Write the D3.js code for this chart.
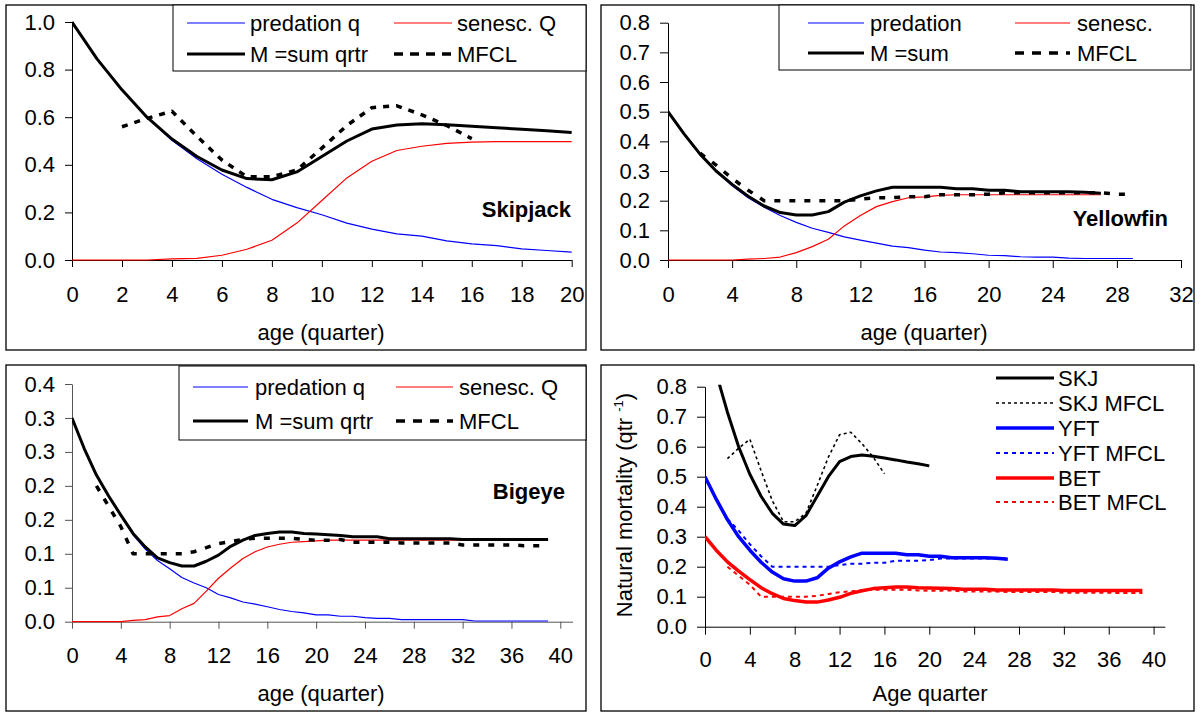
<!DOCTYPE html>
<html>
<head>
<meta charset="utf-8">
<script src="https://cdn.jsdelivr.net/npm/d3@7"></script>
<style>
body { margin: 0; background: #fff; }
svg { display: block; font-family: "Liberation Sans", Arial, sans-serif; }
</style>
</head>
<body>
<div id="chart"></div>
<script>

// ---- skipjack (quarters 0..20), MFCL from quarter 2
var skjPred = [1.0, 0.845, 0.715, 0.60, 0.503, 0.425, 0.36, 0.305, 0.255, 0.22, 0.19, 0.155, 0.13, 0.11, 0.10, 0.08, 0.068, 0.06, 0.047, 0.04, 0.033];
var skjSen  = [0, 0, 0, 0, 0.005, 0.007, 0.02, 0.045, 0.083, 0.155, 0.25, 0.345, 0.415, 0.46, 0.478, 0.49, 0.495, 0.497, 0.497, 0.497, 0.497];
var skjM    = [1.0, 0.845, 0.715, 0.60, 0.508, 0.435, 0.378, 0.342, 0.337, 0.37, 0.435, 0.50, 0.55, 0.567, 0.572, 0.568, 0.562, 0.556, 0.549, 0.543, 0.536];
var skjMfcl = [0.56, 0.595, 0.625, 0.52, 0.42, 0.35, 0.35, 0.378, 0.47, 0.565, 0.64, 0.648, 0.61, 0.565, 0.51];

// ---- yellowfin (quarters 0..29)
var yftPred = [0.5, 0.425, 0.355, 0.30, 0.25, 0.21, 0.178, 0.15, 0.127, 0.107, 0.093, 0.078, 0.067, 0.057, 0.047, 0.042, 0.033, 0.027, 0.025, 0.021, 0.016, 0.015, 0.011, 0.01, 0.01, 0.006, 0.005, 0.005, 0.005, 0.005];
var yftSen  = [0, 0, 0, 0, 0, 0.003, 0.005, 0.01, 0.025, 0.045, 0.07, 0.115, 0.15, 0.18, 0.197, 0.21, 0.213, 0.218, 0.22, 0.22, 0.22, 0.22, 0.22, 0.22, 0.22, 0.22, 0.22, 0.22];
var yftM    = [0.5, 0.425, 0.357, 0.30, 0.255, 0.215, 0.182, 0.16, 0.152, 0.152, 0.163, 0.195, 0.216, 0.233, 0.245, 0.245, 0.245, 0.245, 0.24, 0.24, 0.235, 0.235, 0.23, 0.23, 0.23, 0.23, 0.228, 0.225];
var yftMfcl = [0.36, 0.32, 0.275, 0.235, 0.2, 0.2, 0.2, 0.2, 0.2, 0.2, 0.205, 0.21, 0.21, 0.213, 0.213, 0.22, 0.22, 0.22, 0.222, 0.227, 0.227, 0.227, 0.227, 0.227, 0.227, 0.227, 0.222, 0.222];

// ---- bigeye (quarters 0..39)
var betPred = [0.3, 0.255, 0.215, 0.185, 0.157, 0.128, 0.107, 0.09, 0.078, 0.065, 0.057, 0.05, 0.04, 0.035, 0.029, 0.026, 0.022, 0.018, 0.015, 0.013, 0.01, 0.01, 0.008, 0.008, 0.006, 0.005, 0.005, 0.003, 0.003, 0.003, 0.003, 0.003, 0.003, 0.001, 0.001, 0.001, 0.001, 0.001, 0.001, 0.001];
var betSen  = [0, 0, 0, 0, 0, 0.002, 0.003, 0.007, 0.009, 0.019, 0.027, 0.045, 0.064, 0.079, 0.093, 0.103, 0.11, 0.114, 0.117, 0.118, 0.119, 0.12, 0.12, 0.12, 0.12, 0.12, 0.12, 0.12, 0.12, 0.12, 0.12, 0.12, 0.12, 0.12, 0.12, 0.12, 0.12, 0.12, 0.12, 0.12];
var betM    = [0.3, 0.255, 0.216, 0.185, 0.157, 0.13, 0.11, 0.094, 0.087, 0.082, 0.082, 0.089, 0.098, 0.111, 0.12, 0.127, 0.13, 0.132, 0.132, 0.13, 0.129, 0.128, 0.127, 0.125, 0.125, 0.125, 0.122, 0.122, 0.122, 0.122, 0.122, 0.122, 0.121, 0.121, 0.121, 0.121, 0.121, 0.121, 0.121, 0.121];
var betMfcl = [0.2, 0.17, 0.14, 0.1, 0.1, 0.1, 0.1, 0.1, 0.103, 0.109, 0.115, 0.118, 0.121, 0.123, 0.123, 0.123, 0.123, 0.121, 0.12, 0.12, 0.121, 0.117, 0.117, 0.117, 0.117, 0.116, 0.116, 0.116, 0.116, 0.116, 0.113, 0.113, 0.113, 0.113, 0.113, 0.112, 0.112, 0.112];

// ---- tick labels
var skjYTicks = [0, 0.2, 0.4, 0.6, 0.8, 1.0];
var skjXTicks = [0, 2, 4, 6, 8, 10, 12, 14, 16, 18, 20];
var yftYTicks = [0, 0.1, 0.2, 0.3, 0.4, 0.5, 0.6, 0.7, 0.8];
var yftXTicks = [0, 4, 8, 12, 16, 20, 24, 28, 32];
var betYTicks = [0, 0.05, 0.1, 0.15, 0.2, 0.25, 0.3, 0.35];
var betYLabels = ["0.0", "0.1", "0.1", "0.2", "0.2", "0.3", "0.3", "0.4"];
var allXTicks = [0, 4, 8, 12, 16, 20, 24, 28, 32, 36, 40];

var MFCL_START = 2;
var YFT_MFCL_LAST = 27;   // combined panel stops the YFT MFCL curve here

function pts(start, vals){
  return vals.map((v, i) => [start + i, v]);
}

var svg = d3.select('#chart').append('svg')
  .attr('width', 1203)
  .attr('height', 713);

var FS = 22;

function drawPanel(p){
  var g = svg.append('g');

  g.append('rect')
    .attr('x', p.box[0]).attr('y', p.box[1])
    .attr('width', p.box[2] - p.box[0])
    .attr('height', p.box[3] - p.box[1])
    .attr('fill', '#fff')
    .attr('stroke', '#000')
    .attr('stroke-width', 1.3);

  var x = d3.scaleLinear().domain(p.xDomain).range([p.plot[0], p.plot[1]]);
  var y = d3.scaleLinear().domain(p.yDomain).range([p.plot[3], p.plot[2]]);

  var xAxis = d3.axisBottom(x)
    .tickValues(p.xTicks)
    .tickSize(p.tick)
    .tickSizeOuter(0)
    .tickPadding(p.xPad)
    .tickFormat(d3.format('d'));

  var yAxis = d3.axisLeft(y)
    .tickValues(p.yTicks)
    .tickSize(p.tick)
    .tickSizeOuter(0)
    .tickPadding(10)
    .tickFormat((d, i) => p.yLabels ? p.yLabels[i] : d3.format('.1f')(d));

  g.append('g')
    .attr('transform', `translate(0,${p.plot[3]})`)
    .call(xAxis)
    .attr('font-size', FS)
    .attr('font-family', null)
    .call(a => a.selectAll('path,line').attr('stroke', p.axisColor))
    .selectAll('text').attr('fill', '#000');

  g.append('g')
    .attr('transform', `translate(${p.plot[0]},0)`)
    .call(yAxis)
    .attr('font-size', FS)
    .attr('font-family', null)
    .call(a => a.selectAll('path,line').attr('stroke', p.axisColor))
    .selectAll('text').attr('fill', '#000');

  // clip to plot area
  g.append('clipPath').attr('id', p.id + '-clip')
    .append('rect')
    .attr('x', p.plot[0]).attr('y', p.plot[2] - 2)
    .attr('width', p.plot[1] - p.plot[0] + 4)
    .attr('height', p.plot[3] - p.plot[2] + 4);

  var line = d3.line().x(d => x(d[0])).y(d => y(d[1]));

  g.append('g')
    .attr('clip-path', `url(#${p.id}-clip)`)
    .selectAll('path')
    .data(p.series)
    .join('path')
      .attr('d', d => line(d.pts))
      .attr('fill', 'none')
      .attr('stroke', d => d.color)
      .attr('stroke-width', d => d.width)
      .attr('stroke-dasharray', d => d.dash || null)
      .attr('stroke-linejoin', 'round');

  // legend
  var lg = p.legend;
  if (lg.box){
    g.append('rect')
      .attr('x', lg.box[0]).attr('y', lg.box[1])
      .attr('width', lg.box[2] - lg.box[0])
      .attr('height', lg.box[3] - lg.box[1])
      .attr('fill', '#fff')
      .attr('stroke', '#000')
      .attr('stroke-width', 1);
  }
  var items = g.append('g')
    .selectAll('g')
    .data(p.series.filter(d => d.label))
    .join('g');

  items.append('line')
    .attr('x1', d => lg.cols[d.col][0])
    .attr('x2', d => lg.cols[d.col][1])
    .attr('y1', d => lg.rows[d.row])
    .attr('y2', d => lg.rows[d.row])
    .attr('stroke', d => d.color)
    .attr('stroke-width', d => d.width)
    .attr('stroke-dasharray', d => d.legDash || d.dash || null);

  items.append('text')
    .attr('x', d => lg.cols[d.col][2])
    .attr('y', d => lg.rows[d.row] + 7.5)
    .attr('font-size', FS)
    .text(d => d.label);

  if (p.name){
    g.append('text')
      .attr('x', p.name[1]).attr('y', p.name[2])
      .attr('text-anchor', 'end')
      .attr('font-size', FS)
      .attr('font-weight', 'bold')
      .text(p.name[0]);
  }

  g.append('text')
    .attr('x', p.xTitle[1]).attr('y', p.xTitle[2])
    .attr('text-anchor', 'middle')
    .attr('font-size', FS)
    .text(p.xTitle[0]);

  return g;
}

// Skipjack
drawPanel({
  id: 'skj', box: [6, 5, 586, 350], plot: [72, 571.7, 22, 260],
  xDomain: [0, 20], yDomain: [0, 1.0], xTicks: skjXTicks, yTicks: skjYTicks,
  tick: 7, xPad: 19, axisColor: '#000',
  series: [
    {pts: pts(0, skjPred), color: '#0000ff', width: 1.2, label: 'predation q', col: 0, row: 0},
    {pts: pts(0, skjSen), color: '#ff0000', width: 1.2, label: 'senesc. Q', col: 1, row: 0},
    {pts: pts(0, skjM), color: '#000', width: 3, label: 'M =sum qrtr', col: 0, row: 1},
    {pts: pts(MFCL_START, skjMfcl), color: '#000', width: 3.5, dash: '6,7', legDash: '9,7', label: 'MFCL', col: 1, row: 1}
  ],
  legend: {box: [173, 5, 586, 71], rows: [23, 54], cols: [[187, 245, 250], [394, 452, 457]]},
  name: ['Skipjack', 571, 217],
  xTitle: ['age (quarter)', 321, 340]
});

// Yellowfin
drawPanel({
  id: 'yft', box: [601, 5, 1194, 350], plot: [668, 1181, 22.7, 260],
  xDomain: [0, 32], yDomain: [0, 0.8], xTicks: yftXTicks, yTicks: yftYTicks,
  tick: 8, xPad: 18, axisColor: '#000',
  series: [
    {pts: pts(0, yftPred), color: '#0000ff', width: 1.2, label: 'predation', col: 0, row: 0},
    {pts: pts(0, yftSen), color: '#ff0000', width: 1.2, label: 'senesc.', col: 1, row: 0},
    {pts: pts(0, yftM), color: '#000', width: 3, label: 'M =sum', col: 0, row: 1},
    {pts: pts(MFCL_START, yftMfcl), color: '#000', width: 3.5, dash: '6,9', legDash: '9,8', label: 'MFCL', col: 1, row: 1}
  ],
  legend: {box: [779, 5, 1191, 70], rows: [23, 53], cols: [[808, 864, 870], [1015, 1070, 1077]]},
  name: ['Yellowfin', 1168, 226],
  xTitle: ['age (quarter)', 924, 340]
});

// Bigeye
drawPanel({
  id: 'bet', box: [6, 365, 586, 711], plot: [72, 572.5, 384, 621.7],
  xDomain: [0, 41], yDomain: [0, 0.35], xTicks: allXTicks, yTicks: betYTicks, yLabels: betYLabels,
  tick: 7, xPad: 19, axisColor: '#555',
  series: [
    {pts: pts(0, betPred), color: '#0000ff', width: 1.2, label: 'predation q', col: 0, row: 0},
    {pts: pts(0, betSen), color: '#ff0000', width: 1.2, label: 'senesc. Q', col: 1, row: 0},
    {pts: pts(0, betM), color: '#000', width: 3, label: 'M =sum qrtr', col: 0, row: 1},
    {pts: pts(MFCL_START, betMfcl), color: '#000', width: 3.5, dash: '6,9', legDash: '9,8', label: 'MFCL', col: 1, row: 1}
  ],
  legend: {box: [179, 366, 586, 440], rows: [387, 421], cols: [[193, 248, 255], [396, 453, 459]]},
  name: ['Bigeye', 565, 499],
  xTitle: ['age (quarter)', 321, 701]
});

// all three species
var p4 = drawPanel({
  id: 'all', box: [601, 365, 1194, 711], plot: [705, 1164.8, 386.7, 626.7],
  xDomain: [0, 41], yDomain: [0, 0.8], xTicks: allXTicks, yTicks: yftYTicks,
  tick: 8, xPad: 17, axisColor: '#000',
  series: [
    {pts: pts(0, skjM), color: '#000', width: 3, label: 'SKJ', col: 0, row: 0},
    {pts: pts(MFCL_START, skjMfcl), color: '#000', width: 1.6, dash: '3,3', label: 'SKJ MFCL', col: 0, row: 1},
    {pts: pts(0, yftM), color: '#0000ff', width: 3.5, label: 'YFT', col: 0, row: 2},
    {pts: pts(MFCL_START, yftMfcl).filter(d => d[0] <= YFT_MFCL_LAST), color: '#0000ff', width: 2, dash: '4,4', label: 'YFT MFCL', col: 0, row: 3},
    {pts: pts(0, betM), color: '#ff0000', width: 3.5, label: 'BET', col: 0, row: 4},
    {pts: pts(MFCL_START, betMfcl), color: '#ff0000', width: 2, dash: '4,4', label: 'BET MFCL', col: 0, row: 5}
  ],
  legend: {box: null, rows: [378, 403, 428, 453, 478, 502], cols: [[996, 1054, 1058]]},
  name: null,
  xTitle: ['Age quarter', 930, 701]
});

var yl = p4.append('text')
  .attr('transform', 'translate(632,505) rotate(-90)')
  .attr('text-anchor', 'middle')
  .attr('font-size', FS);
yl.append('tspan').text('Natural mortality (qtr ');
yl.append('tspan').attr('dy', -9).attr('font-size', 13).text('-1');
yl.append('tspan').attr('dy', 9).text(')');

</script>
</body>
</html>
